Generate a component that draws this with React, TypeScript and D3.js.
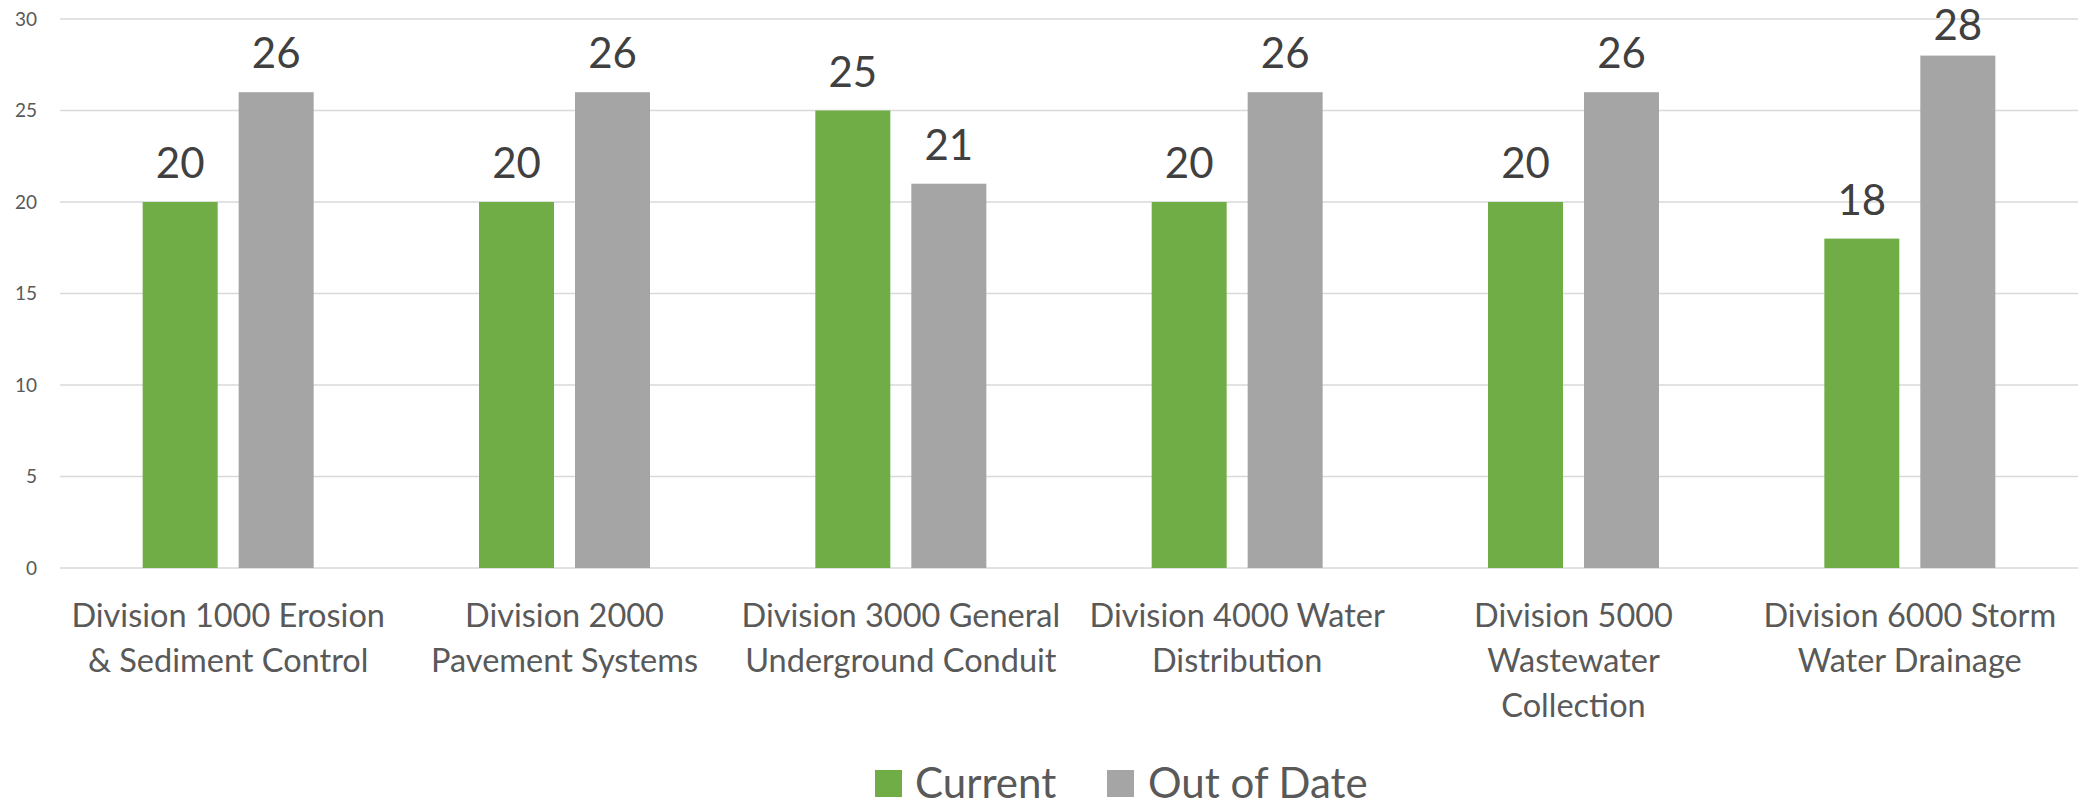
import React from "react";
import * as d3 from "d3";

const categories: string[][] = [
  ["Division 1000 Erosion", "& Sediment Control"],
  ["Division 2000", "Pavement Systems"],
  ["Division 3000 General", "Underground Conduit"],
  ["Division 4000 Water", "Distribution"],
  ["Division 5000", "Wastewater", "Collection"],
  ["Division 6000 Storm", "Water Drainage"],
];
const seriesNames = ["Current", "Out of Date"];
const currentValues = [20, 20, 25, 20, 20, 18];
const outOfDateValues = [26, 26, 21, 26, 26, 28];
const yTicks = [0, 5, 10, 15, 20, 25, 30];
const colors = ["#70AD47", "#A5A5A5"];

const W = 2079;
const H = 810;
const FONT = "Lato, 'Open Sans', sans-serif";

export default function App() {
  const x0 = d3
    .scaleBand<number>()
    .domain(d3.range(categories.length))
    .range([60, 2078])
    .paddingInner(0.4916)
    .paddingOuter(0.4916 / 2);
  const x1 = d3
    .scaleBand<number>()
    .domain([0, 1])
    .range([0, x0.bandwidth()])
    .paddingInner(0.21875)
    .paddingOuter(0);
  const y = d3.scaleLinear().domain([0, 30]).range([568, 19]);
  const series = [currentValues, outOfDateValues];

  const legendItems = [
    { sq: 875, tx: 915 },
    { sq: 1107, tx: 1148 },
  ];

  return (
    <svg
      width={W}
      height={H}
      style={{ position: "absolute", left: 0, top: 0, background: "#fff" }}
      fontFamily={FONT}
    >
      {yTicks.map((t) => (
        <g key={t}>
          <line x1={60} x2={2078} y1={y(t)} y2={y(t)} stroke="#d9d9d9" strokeWidth={1.5} />
          <text x={37} y={y(t)} dy="0.35em" textAnchor="end" fontSize={19} fill="#595959">
            {t}
          </text>
        </g>
      ))}
      {series.map((vals, si) =>
        vals.map((v, ci) => {
          const bx = (x0(ci) ?? 0) + (x1(si) ?? 0);
          const by = y(v);
          const labelY = Math.max(by - 24, 40);
          return (
            <g key={`${si}-${ci}`}>
              <rect x={bx} y={by} width={x1.bandwidth()} height={y(0) - by} fill={colors[si]} />
              <text
                x={bx + x1.bandwidth() / 2}
                y={labelY}
                textAnchor="middle"
                fontSize={42}
                fill="#404040"
              >
                {v}
              </text>
            </g>
          );
        })
      )}
      {categories.map((lines, ci) => (
        <text
          key={ci}
          x={(x0(ci) ?? 0) + x0.bandwidth() / 2}
          y={627}
          textAnchor="middle"
          fontSize={32.5}
          fill="#595959"
        >
          {lines.map((l, li) => (
            <tspan key={li} x={(x0(ci) ?? 0) + x0.bandwidth() / 2} y={627 + li * 45}>
              {l}
            </tspan>
          ))}
        </text>
      ))}
      {seriesNames.map((name, i) => (
        <g key={name}>
          <rect x={legendItems[i].sq} y={770} width={27} height={27} fill={colors[i]} />
          <text x={legendItems[i].tx} y={798} fontSize={42} fill="#595959">
            {name}
          </text>
        </g>
      ))}
    </svg>
  );
}
